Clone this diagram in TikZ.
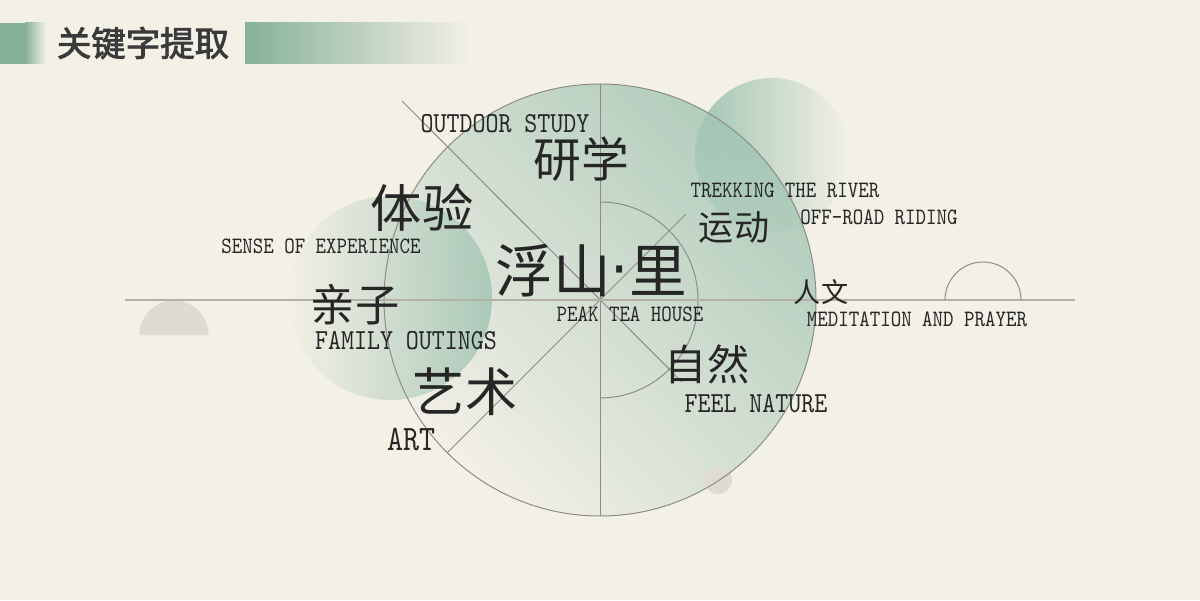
\documentclass[tikz,border=0pt]{standalone}
\usepackage{fontspec}
\newfontfamily\cjkfont{Noto Sans CJK SC}
\newfontfamily\cjkbold[FakeBold=2.5]{Noto Sans CJK SC}
\newfontfamily\dotfont{DejaVu Sans}
\newfontfamily\enfont{lmmono10-regular.otf}[FakeStretch=0.85]
\definecolor{bgc}{HTML}{F3F0E6}
\definecolor{barc}{HTML}{86B19B}
\definecolor{softc}{HTML}{A2C5B3}
\definecolor{rimc}{HTML}{8C8B86}
\definecolor{axisc}{HTML}{B3B0A8}
\definecolor{dotc}{HTML}{DDDBD2}
\definecolor{inkc}{HTML}{262626}
\definecolor{titlec}{HTML}{3A3A3A}

\begin{document}
\begin{tikzpicture}[x=0.025cm,y=0.025cm,
    zh/.style={font=\cjkfont\fontsize{#1}{#1}\selectfont, text=inkc, inner sep=0pt},
    en/.style={font=\enfont\fontsize{#1}{#1}\selectfont, text=inkc, inner sep=0pt},
    rim/.style={draw=rimc, line width=0.7pt},
    axisline/.style={draw=axisc, line width=1pt}]
        \fill[bgc] (0,0) rectangle (1200,600);
        % title bar
        \fill[barc] (0,536) rectangle (25,577);
        \shade[left color=barc, right color=bgc] (25,536) rectangle (46,577);
        \shade[left color=barc, right color=bgc] (245,536) rectangle (470,577);
        \node[font=\cjkbold\fontsize{24.5}{24.5}\selectfont, text=titlec, inner sep=0pt] (title) at (143,557) {关键字提取};
        % soft circles
        \shade[left color=softc, right color=bgc] (772,445) circle (77);
        \shade[top color=softc, middle color=softc!35!bgc, bottom color=bgc, shading angle=-45, opacity=0.8] (600,300) circle (216);
        \shade[left color=bgc, right color=softc, opacity=0.85] (390,302) circle (102);
        \fill[dotc] (718,120) circle (14);
        \fill[dotc] (139.5,265) arc[start angle=180, end angle=0, radius=34.5] -- cycle;
        % rings and spokes
        \coordinate (c) at (600,300);
        \coordinate (top) at (600,516);
        \coordinate (bot) at (600,84);
        \coordinate (ul) at (402,499);
        \coordinate (lr) at (682,218);
        \coordinate (ll) at (447,147);
        \coordinate (ur) at (686,386);
        \coordinate (lend) at (125,300);
        \coordinate (rend) at (1075,300);
        \draw[rim] (c) circle (216);
        \draw[rim] (600,398) arc[start angle=90, end angle=-90, radius=98];
        \draw[rim] (top) -- (bot);
        \draw[rim] (ul) -- (lr);
        \draw[rim] (ll) -- (ur);
        \draw[axisline] (lend) -- (rend);
        \draw[rim] (945,300) arc[start angle=180, end angle=0, radius=38];
        % keywords
        \node[zh=41] (fushan) at (591,329) {浮山{\dotfont\raisebox{0.06em}{·}}里};
        \node[en=16.7] (peak) at (630,286) {PEAK TEA HOUSE};
        \node[zh=34] (yanxue) at (581,441) {研学};
        \node[en=20.7] (study) at (505,476) {OUTDOOR STUDY};
        \node[zh=36.5] (tiyan) at (422,392) {体验};
        \node[en=16.7] (sense) at (321,354) {SENSE OF EXPERIENCE};
        \node[zh=31.5] (qinzi) at (355,295) {亲子};
        \node[en=20.7] (family) at (406,259) {FAMILY OUTINGS};
        \node[zh=37] (yishu) at (465,208) {艺术};
        \node[en=25.5] (art) at (411,160) {ART};
        \node[zh=30] (ziran) at (707,236) {自然};
        \node[en=20.7] (nature) at (756,196) {FEEL NATURE};
        \node[zh=25] (yundong) at (734,372) {运动};
        \node[en=16.7] (trek) at (785,410) {TREKKING THE RIVER};
        \node[en=16.7] (offroad) at (879,383) {OFF-ROAD RIDING};
        \node[zh=19.3] (renwen) at (821,308) {人文};
        \node[en=16.7] (prayer) at (917,281) {MEDITATION AND PRAYER};
\end{tikzpicture}
\end{document}
